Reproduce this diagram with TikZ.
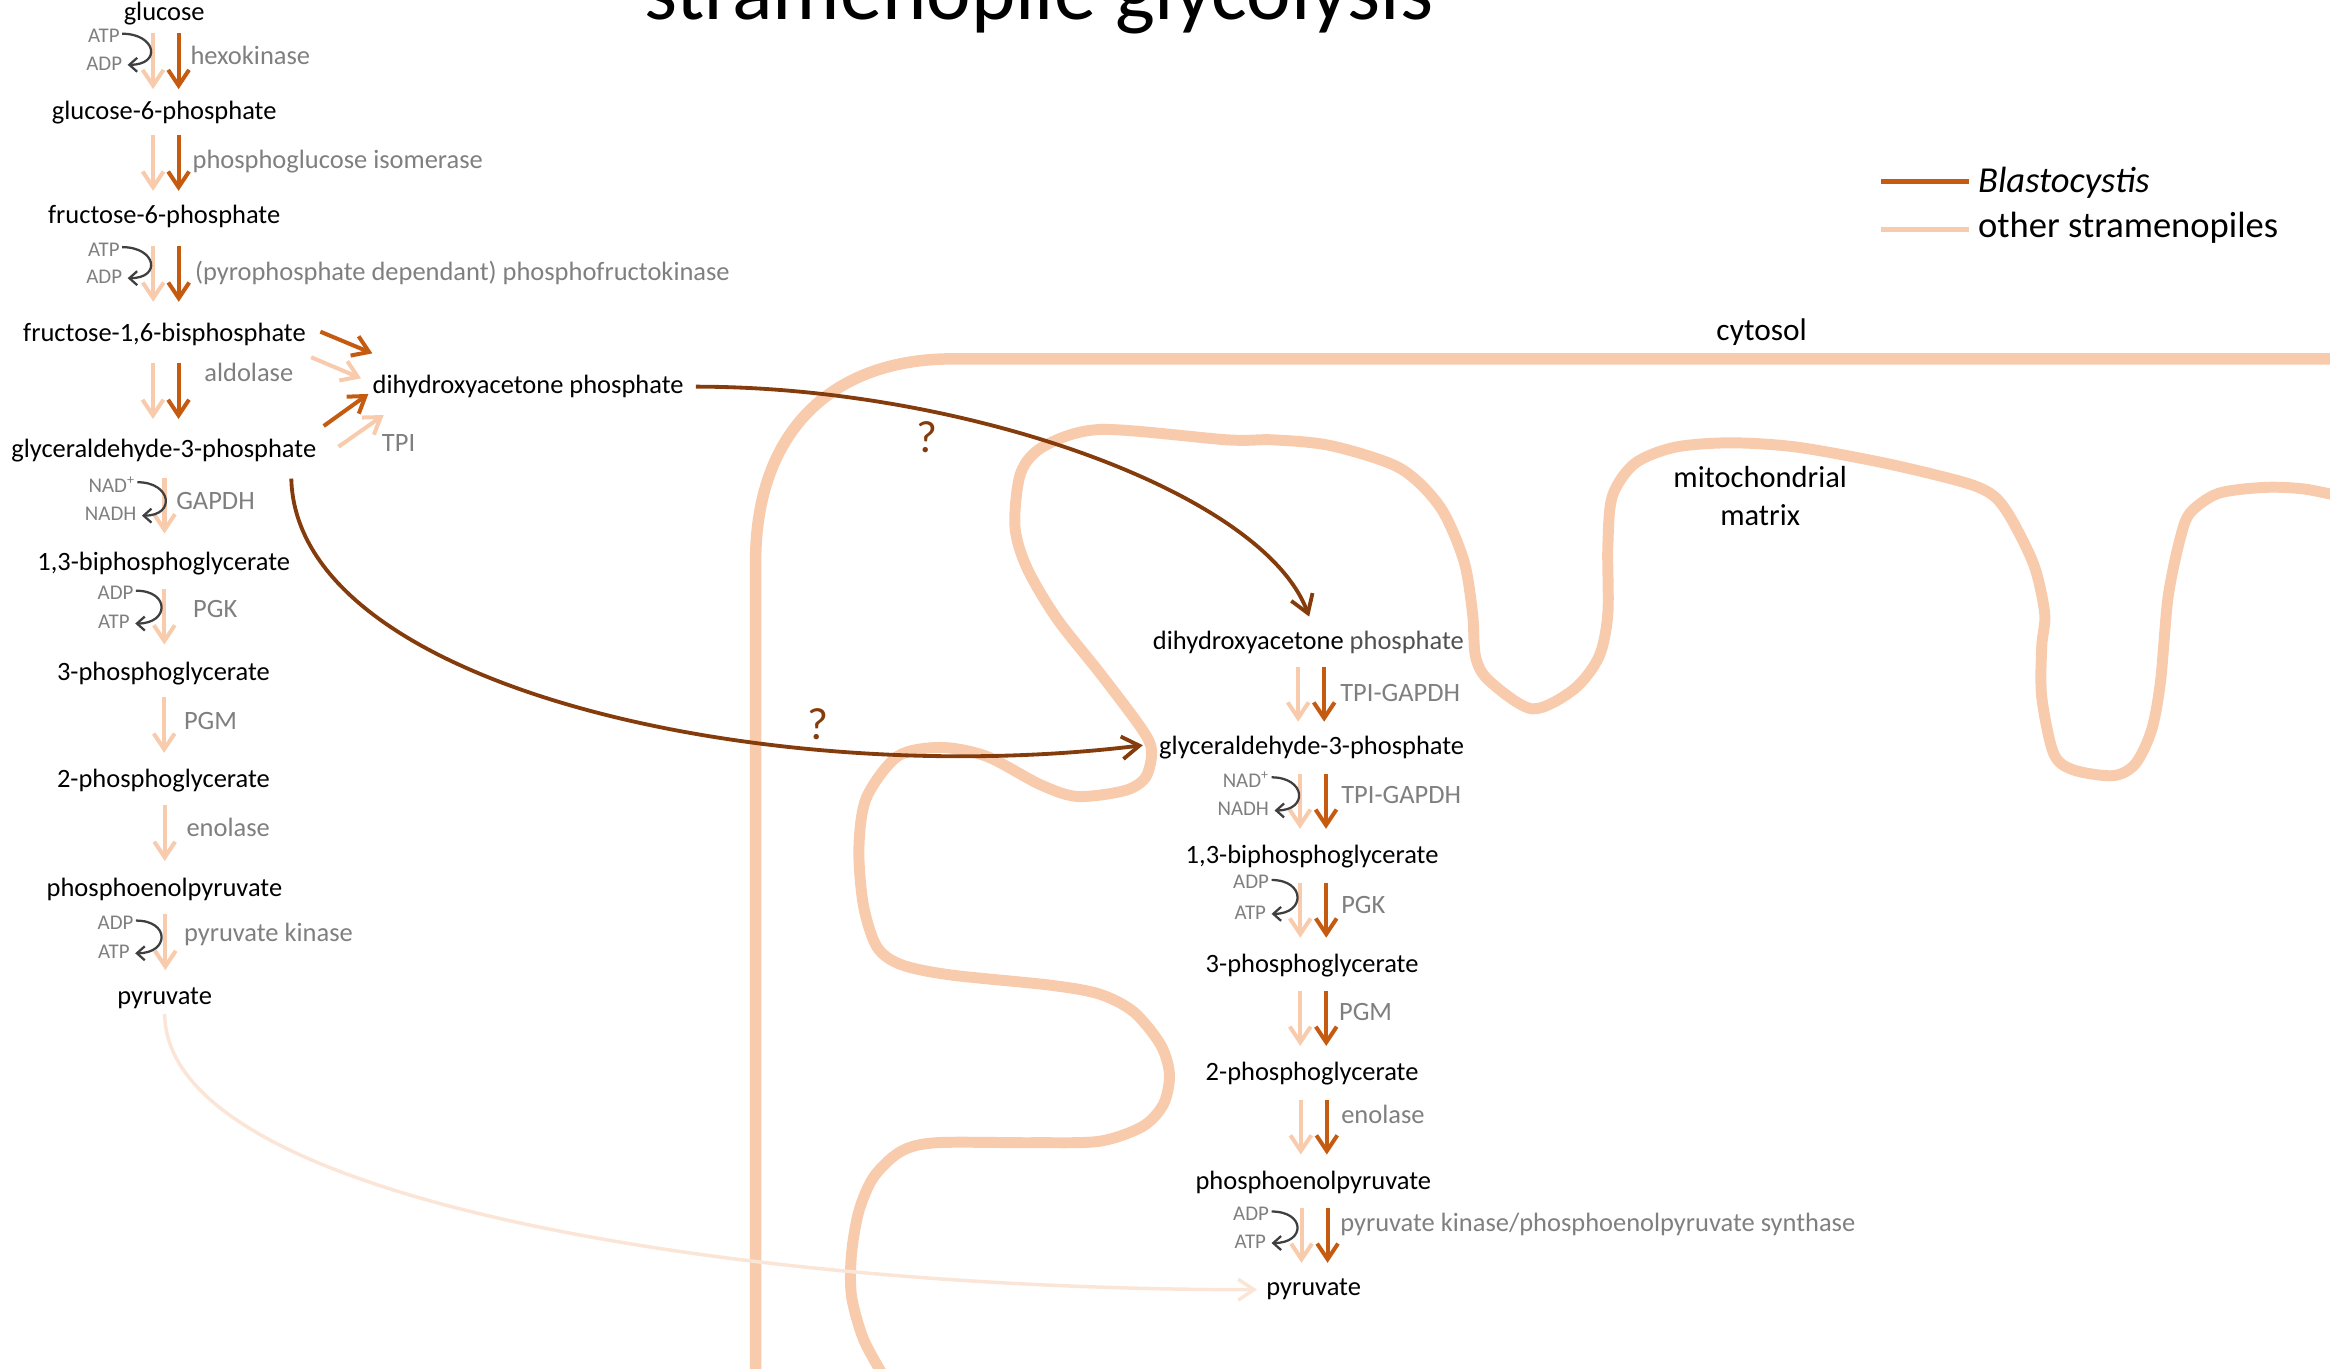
\documentclass[tikz,border=0pt]{standalone}
\usepackage{fontspec}
\setmainfont{Carlito}
\usetikzlibrary{arrows.meta,calc}

\definecolor{memcol}{HTML}{F8CBAD}
\definecolor{dkcol}{HTML}{C55A11}
\definecolor{mvcol}{HTML}{843C0C}
\definecolor{pycol}{HTML}{FBE5D6}
\definecolor{enzcol}{HTML}{7F7F7F}
\definecolor{cofcol}{HTML}{3F3F3F}
\definecolor{phcol}{HTML}{505050}

\begin{document}
\begin{tikzpicture}
  [x=0.03cm,y=-0.03cm,
   every node/.style={inner sep=0pt},
   met/.style={font=\fontsize{15.2}{18}\selectfont},
   enz/.style={anchor=west,text=enzcol,font=\fontsize{15.2}{18}\selectfont},
   cof/.style={anchor=east,text=enzcol,font=\fontsize{12}{14}\selectfont},
   bigarr/.style={-{Straight Barb[length=9pt,width=12pt]},line width=2.3pt},
   lt/.style={bigarr,memcol},
   dk/.style={bigarr,dkcol},
   cofarr/.style={-{Straight Barb[length=4.5pt,width=8pt]},line width=1.3pt,cofcol},
   move/.style={-{Straight Barb[length=10pt,width=13pt]},line width=2.2pt,mvcol},
   memb/.style={memcol,line width=6.3pt}]
  \useasboundingbox (0,0) rectangle (1568,921);

  % membranes
  \draw[memb,line width=6.6pt] (508.5,935) -- (508.5,378)
    .. controls (508.5,290) and (560,241.5) .. (641,241.5) -- (1580,241.5);
  \draw[memb] plot[smooth] coordinates {
    (594,925) (581,901) (573,872) (573,844) (578,815) (588,792) (606,775)
    (630,769) (695,769) (740,768) (769,758) (783,743) (787,723) (781,703)
    (763,681) (740,669) (707,663) (639,656) (606,649) (590,637) (581,609)
    (578,571) (583,537) (604,509) (633,503) (664,509) (700,528) (725,536)
    (757,532) (771,523) (775,505) (768,490) (741,454) (711,416) (691,382)
    (683,354) (687,318) (703,300) (741,289) (826,296) (857,296) (896,300)
    (942,315) (969,341) (985,377) (991,413) (993,442) (1002,458) (1031,477)
    (1059,464) (1076,442) (1082,413) (1082,368) (1085,334) (1100,312)
    (1127,301) (1165,298) (1210,301) (1270,312) (1323,325) (1342,334)
    (1354,350) (1369,381) (1376,413) (1374,435) (1374,469) (1382,507)
    (1395,518) (1422,522) (1437,514) (1448,491) (1454,458) (1459,402)
    (1467,363) (1474,345) (1493,332) (1524,328) (1550,329) (1575,334)};

  \node[anchor=base,font=\fontsize{48.5}{58}\selectfont] (title) at (699,13) {stramenopile glycolysis};
  \node[font=\fontsize{18}{22}\selectfont] (cyto) at (1185.5,223.5) {cytosol};
  \node[align=center,font=\fontsize{17.5}{22}\selectfont] (matrix) at (1184.5,333.7) {mitochondrial\\matrix};

  % legend
  \node[anchor=west,font=\fontsize{21}{25}\selectfont] (blasto) at (1331,123) {\textit{Blastocystis}};
  \node[anchor=west,font=\fontsize{21}{25}\selectfont] (other) at (1331,153.5) {other stramenopiles};
  \coordinate (kdk) at (1266,122.3);
  \coordinate (klt) at (1266,154.3);
  \draw[dkcol,line width=3pt,shorten >=0.18cm] (kdk) -- (kdk -| blasto.west);
  \draw[memcol,line width=3pt,shorten >=0.18cm] (klt) -- (klt -| other.west);

  % cytosolic pathway
  \node[met] (glc)  at (110.5,9)     {glucose};
  \node[met] (g6p)  at (110.5,76)    {glucose-6-phosphate};
  \node[met] (f6p)  at (110.5,145.8) {fructose-6-phosphate};
  \node[met] (fbp)  at (110.7,225.4) {fructose-1,6-bisphosphate};
  \node[met] (gap)  at (110.2,303.5) {glyceraldehyde-3-phosphate};
  \node[met] (bpg)  at (110.2,379.5) {1,3-biphosphoglycerate};
  \node[met] (pga3) at (110,453)     {3-phosphoglycerate};
  \node[met] (pga2) at (110,525.2)   {2-phosphoglycerate};
  \node[met] (pep)  at (110.7,598.6) {phosphoenolpyruvate};
  \node[met] (pyr)  at (110.8,672)   {pyruvate};
  \node[met,anchor=west] (dhap) at (250.6,260.2) {dihydroxyacetone phosphate};

  \node[enz] (hk)    at (128,37)      {hexokinase};
  \node[enz] (pgi)   at (129.4,108.8) {phosphoglucose isomerase};
  \node[enz] (pfk)   at (131,183.5)   {(pyrophosphate dependant) phosphofructokinase};
  \node[enz] (ald)   at (137.3,250.8) {aldolase};
  \node[enz] (tpi)   at (256.8,298.3) {TPI};
  \node[enz] (gapdh) at (118.4,337.2) {GAPDH};
  \node[enz] (pgk)   at (129.8,410)   {PGK};
  \node[enz] (pgm)   at (123.6,485)   {PGM};
  \node[enz] (eno)   at (125.3,557)   {enolase};
  \node[enz] (pk)    at (123.6,629)   {pyruvate kinase};

  \node[cof] (atp1)  at (80.7,24.2)  {ATP};
  \node[cof] (adp1)  at (82.4,42.6)  {ADP};
  \node[cof] (atp2)  at (80.7,167.8) {ATP};
  \node[cof] (adp2)  at (82.4,186.2) {ADP};
  \node[cof] (nad1)  at (91,326)     {NAD\textsuperscript{+}};
  \node[cof] (nadh1) at (92,346)     {NADH};
  \node[cof] (adp3)  at (90,399)     {ADP};
  \node[cof] (atp3)  at (87.5,418.6) {ATP};
  \node[cof] (adp4)  at (90,621)     {ADP};
  \node[cof] (atp4)  at (87.5,640.5) {ATP};

  % mitochondrial pathway
  \node[met] (dhapm) at (880.5,432.3) {dihydroxyacetone \textcolor{phcol}{phosphate}};
  \node[met] (gapm)  at (882.7,503)   {glyceraldehyde-3-phosphate};
  \node[met] (bpgm)  at (883,576.5)   {1,3-biphosphoglycerate};
  \node[met] (pga3m) at (883,649.5)   {3-phosphoglycerate};
  \node[met] (pga2m) at (883,722.2)   {2-phosphoglycerate};
  \node[met] (pepm)  at (883.8,795.8) {phosphoenolpyruvate};
  \node[met] (pyrm)  at (884,867.9)   {pyruvate};

  \node[enz] (tg1)  at (901.7,466.3) {TPI-GAPDH};
  \node[enz] (tg2)  at (902.4,535.1) {TPI-GAPDH};
  \node[enz] (pgk2) at (902.4,609)   {PGK};
  \node[enz] (pgm2) at (900.9,680.8) {PGM};
  \node[enz] (eno2) at (902.4,749.9) {enolase};
  \node[enz] (pk2)  at (901.7,823.8) {pyruvate kinase/phosphoenolpyruvate synthase};

  \node[cof] (nad2)  at (854.2,524.6) {NAD\textsuperscript{+}};
  \node[cof] (nadh2) at (854.2,544.4) {NADH};
  \node[cof] (adp5)  at (854.2,593.7) {ADP};
  \node[cof] (atp5)  at (852.2,614)   {ATP};
  \node[cof] (adp6)  at (854.2,816.8) {ADP};
  \node[cof] (atp6)  at (852.2,835.5) {ATP};

  \node[text=mvcol,font=\fontsize{26}{30}\selectfont] (q1) at (623.5,294.5) {?};
  \node[text=mvcol,font=\fontsize{26}{30}\selectfont] (q2) at (550.6,487.4) {?};

  % pathway steps
  \foreach \from/\to in {glc/g6p,g6p/f6p,f6p/fbp,fbp/gap}{
    \draw[lt] ($(\from)!.5!(\to)+(-7.5,-20)$) -- ++(0,37.5);
    \draw[dk] ($(\from)!.5!(\to)+(9.7,-20)$) -- ++(0,37.5);
  }
  \foreach \from/\to in {gap/bpg,bpg/pga3,pga3/pga2,pga2/pep,pep/pyr}
    \draw[lt] ($(\from)!.5!(\to)+(0.5,-20)$) -- ++(0,37.5);
  \foreach \from/\to in {dhapm/gapm,gapm/bpgm,bpgm/pga3m,pga3m/pga2m,pga2m/pepm,pepm/pyrm}{
    \draw[lt] ($(\from)!.5!(\to)+(-8,-19)$) -- ++(0,37);
    \draw[dk] ($(\from)!.5!(\to)+(9.5,-19)$) -- ++(0,37);
  }

  \draw[dk] ($(fbp.east)+(9.6,-2.2)$) -- ($(dhap.west)+(0,-22.4)$);
  \draw[lt] ($(fbp.east)+(3.4,15)$) -- ($(dhap.west)+(-7.6,-5.6)$);
  \draw[dk] ($(gap.east)+(4.8,-16.8)$) -- ($(dhap.west)+(-2.7,4.9)$);
  \draw[lt] ($(gap.east)+(14.8,-2.9)$) -- ($(dhap.west)+(7.6,19.1)$);

  \foreach \up/\dn in {atp1/adp1,atp2/adp2,nad1/nadh1,adp3/atp3,adp4/atp4,nad2/nadh2,adp5/atp5,adp6/atp6}
    \draw[cofarr] ($(\up.east)+(1.5,-1.5)$) .. controls +(23,0) and +(23,0) .. ($(\dn.east)+(3.5,1)$);

  % transport into the mitochondrion
  \draw[move] ($(dhap.east)+(8,0)$) .. controls +(180,0) and +(-31,-84) .. ($(dhapm.north)+(0.5,-9.5)$);
  \draw[move] ($(gap.south east)+(-17,10.6)$) .. controls +(3.5,142) and +(-248,30.5) .. ($(gapm.west)+(-10.8,-1.5)$);
  \draw[bigarr,pycol,line width=2pt] ($(pyr.south)+(0,3)$) .. controls +(1.2,127) and +(-346,0) .. ($(pyrm.west)+(-6,0)$);

\end{tikzpicture}
\end{document}
